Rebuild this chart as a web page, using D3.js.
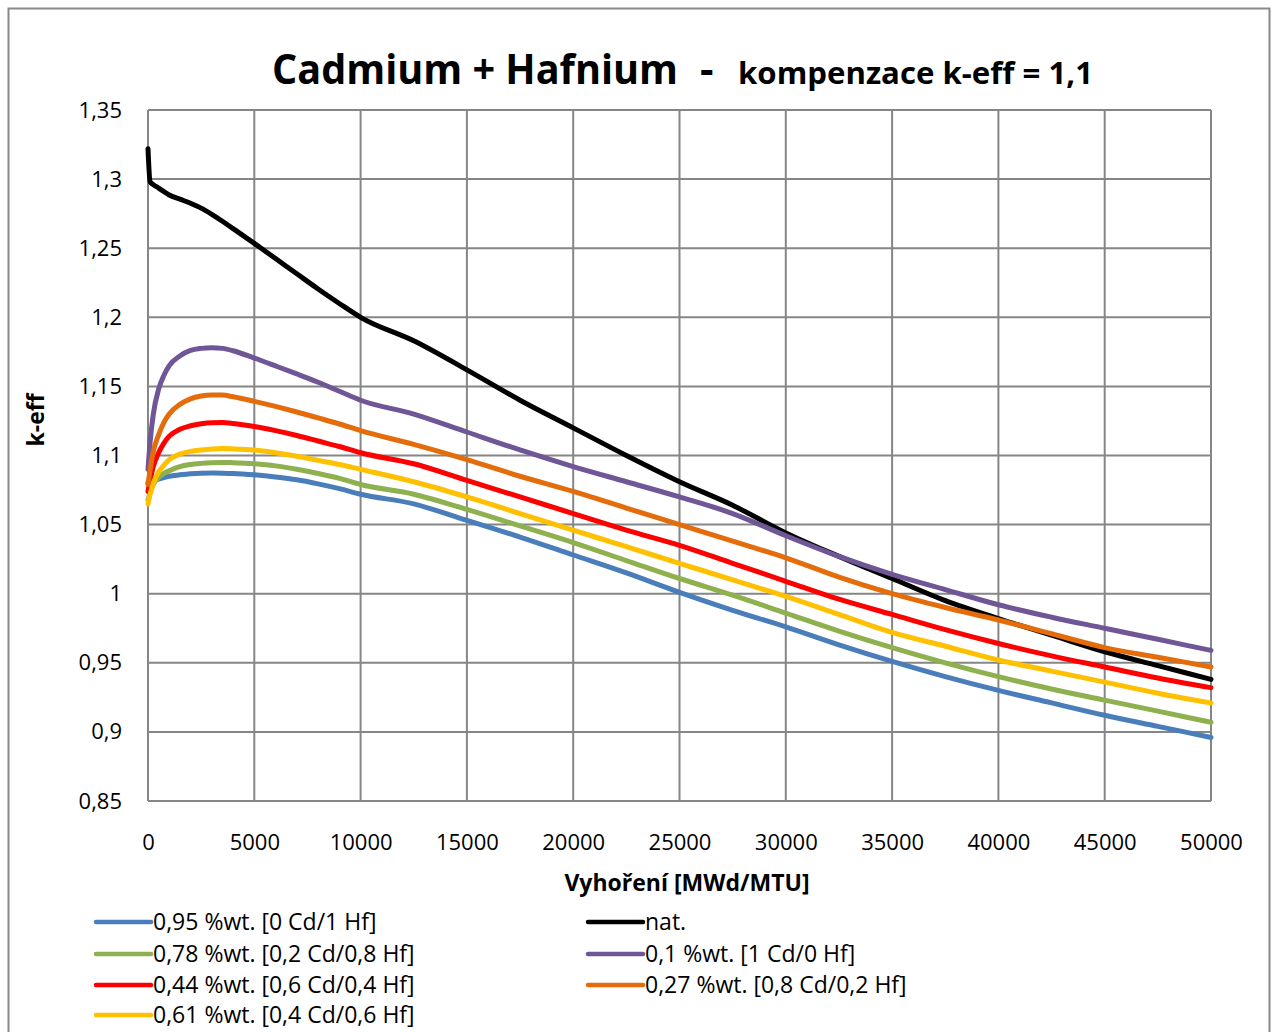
<!DOCTYPE html>
<html><head><meta charset="utf-8">
<script src="https://cdn.jsdelivr.net/npm/d3@7"></script>
<style>
html,body{margin:0;padding:0;background:#fff;}
svg text{font-family:"Open Sans",sans-serif;}
</style></head>
<body><svg id="c" width="1274" height="1032"></svg>
<script>
const burnup = [0,100,250,500,750,1000,1500,2000,2500,3000,3500,4000,5000,6000,7000,8000,9000,10000,12500,15000,17500,20000,22500,25000,27500,30000,32500,35000,37500,40000,42500,45000,47500,50000];
const blueHf = [1.080,1.081,1.082,1.083,1.084,1.085,1.086,1.0868,1.0872,1.0873,1.0872,1.087,1.086,1.0845,1.0825,1.0795,1.076,1.072,1.065,1.053,1.041,1.028,1.015,1.001,0.988,0.976,0.963,0.951,0.940,0.930,0.921,0.912,0.904,0.896];
const greenMix = [1.068,1.073,1.079,1.084,1.087,1.089,1.092,1.0935,1.0943,1.0948,1.095,1.0948,1.094,1.0925,1.090,1.087,1.0835,1.079,1.072,1.061,1.049,1.037,1.024,1.011,0.999,0.986,0.973,0.961,0.950,0.940,0.931,0.923,0.915,0.907];
const redMix = [1.074,1.082,1.092,1.102,1.109,1.114,1.119,1.1215,1.123,1.1237,1.1238,1.1232,1.121,1.118,1.1145,1.1105,1.1065,1.102,1.094,1.082,1.070,1.058,1.046,1.035,1.022,1.009,0.996,0.985,0.974,0.964,0.955,0.947,0.939,0.932];
const yellowMix = [1.065,1.072,1.080,1.088,1.093,1.097,1.101,1.103,1.104,1.1047,1.105,1.1048,1.104,1.102,1.0995,1.0965,1.0935,1.090,1.081,1.070,1.058,1.046,1.034,1.022,1.010,0.998,0.985,0.972,0.962,0.952,0.944,0.936,0.928,0.921];
const blackNat = [1.322,1.298,1.296,1.2935,1.2910,1.2885,1.2855,1.2825,1.2790,1.2745,1.2695,1.2642,1.2535,1.2425,1.2315,1.2205,1.2100,1.2000,1.1830,1.1620,1.1400,1.1200,1.1000,1.0810,1.0640,1.0440,1.0270,1.0110,0.9950,0.9820,0.9700,0.9580,0.9480,0.9380];
const purpleCd = [1.090,1.110,1.130,1.148,1.158,1.165,1.172,1.176,1.1775,1.178,1.1775,1.1758,1.1705,1.1648,1.159,1.153,1.1465,1.140,1.130,1.117,1.104,1.092,1.081,1.070,1.058,1.042,1.027,1.014,1.003,0.992,0.983,0.975,0.967,0.959];
const orangeMix = [1.079,1.090,1.103,1.115,1.124,1.130,1.137,1.141,1.143,1.1438,1.1437,1.1425,1.1392,1.1355,1.1315,1.1272,1.1228,1.118,1.108,1.097,1.085,1.074,1.062,1.050,1.038,1.026,1.012,1.000,0.990,0.981,0.971,0.961,0.954,0.947];

const seriesNames = ["0,95 %wt. [0 Cd/1 Hf]","0,78 %wt. [0,2 Cd/0,8 Hf]","0,44 %wt. [0,6 Cd/0,4 Hf]","0,61 %wt. [0,4 Cd/0,6 Hf]","nat.","0,1 %wt. [1 Cd/0 Hf]","0,27 %wt. [0,8 Cd/0,2 Hf]"];
const seriesValues = [blueHf, greenMix, redMix, yellowMix, blackNat, purpleCd, orangeMix];
const seriesColors = ["#4a7ebb","#8eb04f","#ff0000","#ffc000","#000000","#6f5696","#e46c0a"];
const xTicks = [0,5000,10000,15000,20000,25000,30000,35000,40000,45000,50000];
const yTicks = [0.85,0.9,0.95,1,1.05,1.1,1.15,1.2,1.25,1.3,1.35];

const svg = d3.select("#c");
svg.append("rect").attr("x",8.5).attr("y",8.5).attr("width",1261).attr("height",1040).attr("fill","#fff").attr("stroke","#898989").attr("stroke-width",2);

const L=148,R=1211,T=110,B=801;
const x = d3.scaleLinear().domain([0,50000]).range([L,R]);
const y = d3.scaleLinear().domain([0.85,1.35]).range([B,T]);
const fmt = v => d3.format("")(v).replace(".",",");

const g = svg.append("g");
g.selectAll(".gx").data(xTicks).enter().append("line")
 .attr("x1",d=>x(d)).attr("x2",d=>x(d)).attr("y1",T).attr("y2",B)
 .attr("stroke","#868686").attr("stroke-width",2);
g.selectAll(".gy").data(yTicks).enter().append("line")
 .attr("x1",L).attr("x2",R).attr("y1",d=>y(d)).attr("y2",d=>y(d))
 .attr("stroke","#868686").attr("stroke-width",2);

const xa = svg.append("g").attr("transform",`translate(0,${B})`)
 .call(d3.axisBottom(x).tickValues(xTicks).tickSize(0).tickPadding(33).tickFormat(d=>String(d)));
xa.select(".domain").remove();
xa.selectAll("text").attr("font-size",22).attr("fill","#000").style("font-family","'Open Sans',sans-serif");
const ya = svg.append("g").attr("transform",`translate(${L},0)`)
 .call(d3.axisLeft(y).tickValues(yTicks).tickSize(0).tickPadding(26).tickFormat(fmt));
ya.select(".domain").remove();
ya.selectAll("text").attr("font-size",22).attr("fill","#000").style("font-family","'Open Sans',sans-serif");

const line = d3.line().x((d,i)=>x(burnup[i])).y(d=>y(d)).curve(d3.curveMonotoneX);
seriesValues.forEach((vals,i)=>{
  svg.append("path").datum(vals).attr("d",line)
   .attr("fill","none").attr("stroke",seriesColors[i]).attr("stroke-width",5)
   .attr("stroke-linejoin","round").attr("stroke-linecap","round");
});

const t = svg.append("text").attr("y",84).attr("font-weight","bold").attr("fill","#000");
t.append("tspan").attr("x",272).attr("font-size",42).text("Cadmium + Hafnium").attr("textLength",406).attr("lengthAdjust","spacingAndGlyphs");
t.append("tspan").attr("x",700).attr("font-size",42).text("-");
t.append("tspan").attr("x",738).attr("font-size",31).text("kompenzace k-eff = 1,1").attr("textLength",355).attr("lengthAdjust","spacingAndGlyphs");

svg.append("text").attr("x",687).attr("y",891).attr("text-anchor","middle").attr("font-size",23).attr("font-weight","bold").text("Vyhoření [MWd/MTU]");
svg.append("text").attr("transform","translate(44,420) rotate(-90)").attr("text-anchor","middle").attr("font-size",23).attr("font-weight","bold").text("k-eff");

const legPos = [[96,922],[96,954],[96,985],[96,1015],[588,922],[588,954],[588,985]];
seriesNames.forEach((n,i)=>{
  const [lx,ly]=legPos[i];
  svg.append("line").attr("x1",lx).attr("x2",lx+55).attr("y1",ly).attr("y2",ly)
   .attr("stroke",seriesColors[i]).attr("stroke-width",4.5).attr("stroke-linecap","round");
  svg.append("text").attr("x",lx+57).attr("y",ly+8).attr("font-size",23).text(n);
});
</script></body></html>
